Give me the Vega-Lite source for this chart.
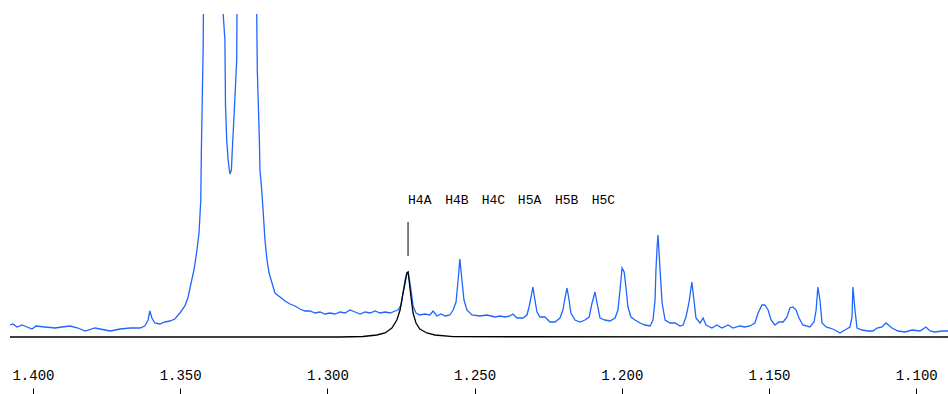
{
  "$schema": "https://vega.github.io/schema/vega-lite/v6.json",
  "width": 938,
  "height": 374,
  "autosize": {"type": "none"},
  "padding": {"left": 10, "top": 14, "right": 0, "bottom": 6},
  "background": "white",
  "config": {"view": {"stroke": null}},
  "datasets": {
    "spectrum": [
      {"ppm": 1.4078, "i": 12}, {"ppm": 1.4068, "i": 13}, {"ppm": 1.4054, "i": 10}, {"ppm": 1.4037, "i": 12},
      {"ppm": 1.4020, "i": 10}, {"ppm": 1.4003, "i": 8}, {"ppm": 1.3990, "i": 11}, {"ppm": 1.3959, "i": 10},
      {"ppm": 1.3925, "i": 9}, {"ppm": 1.3902, "i": 10}, {"ppm": 1.3874, "i": 11}, {"ppm": 1.3847, "i": 9},
      {"ppm": 1.3823, "i": 6}, {"ppm": 1.3789, "i": 9}, {"ppm": 1.3755, "i": 7}, {"ppm": 1.3738, "i": 6},
      {"ppm": 1.3704, "i": 8}, {"ppm": 1.3670, "i": 9}, {"ppm": 1.3637, "i": 9}, {"ppm": 1.3620, "i": 11},
      {"ppm": 1.3609, "i": 17}, {"ppm": 1.3603, "i": 26}, {"ppm": 1.3596, "i": 19}, {"ppm": 1.3586, "i": 14},
      {"ppm": 1.3569, "i": 13}, {"ppm": 1.3552, "i": 15}, {"ppm": 1.3535, "i": 16}, {"ppm": 1.3518, "i": 18},
      {"ppm": 1.3501, "i": 24}, {"ppm": 1.3484, "i": 31}, {"ppm": 1.3473, "i": 40}, {"ppm": 1.3463, "i": 54},
      {"ppm": 1.3453, "i": 67}, {"ppm": 1.3443, "i": 87}, {"ppm": 1.3436, "i": 104}, {"ppm": 1.3430, "i": 137},
      {"ppm": 1.3428, "i": 187}, {"ppm": 1.3425, "i": 237}, {"ppm": 1.3422, "i": 287}, {"ppm": 1.3421, "i": 323},
      {"ppm": 1.3389, "i": 700}, {"ppm": 1.3354, "i": 323}, {"ppm": 1.3348, "i": 297}, {"ppm": 1.3346, "i": 232},
      {"ppm": 1.3342, "i": 197}, {"ppm": 1.3337, "i": 177}, {"ppm": 1.3333, "i": 167}, {"ppm": 1.3331, "i": 163},
      {"ppm": 1.3326, "i": 167}, {"ppm": 1.3323, "i": 187}, {"ppm": 1.3316, "i": 227}, {"ppm": 1.3308, "i": 277},
      {"ppm": 1.3307, "i": 323}, {"ppm": 1.3273, "i": 750}, {"ppm": 1.3240, "i": 323}, {"ppm": 1.3238, "i": 267},
      {"ppm": 1.3235, "i": 237}, {"ppm": 1.3231, "i": 197}, {"ppm": 1.3229, "i": 167}, {"ppm": 1.3223, "i": 147},
      {"ppm": 1.3218, "i": 125}, {"ppm": 1.3212, "i": 97}, {"ppm": 1.3205, "i": 77}, {"ppm": 1.3198, "i": 64},
      {"ppm": 1.3188, "i": 54}, {"ppm": 1.3178, "i": 44}, {"ppm": 1.3161, "i": 40}, {"ppm": 1.3144, "i": 36},
      {"ppm": 1.3127, "i": 33}, {"ppm": 1.3110, "i": 31}, {"ppm": 1.3093, "i": 28}, {"ppm": 1.3076, "i": 26},
      {"ppm": 1.3059, "i": 26}, {"ppm": 1.3042, "i": 24}, {"ppm": 1.3025, "i": 25}, {"ppm": 1.3008, "i": 23},
      {"ppm": 1.2991, "i": 24}, {"ppm": 1.2974, "i": 23}, {"ppm": 1.2957, "i": 25}, {"ppm": 1.2940, "i": 24},
      {"ppm": 1.2923, "i": 27}, {"ppm": 1.2906, "i": 25}, {"ppm": 1.2889, "i": 23}, {"ppm": 1.2872, "i": 25},
      {"ppm": 1.2855, "i": 24}, {"ppm": 1.2838, "i": 26}, {"ppm": 1.2821, "i": 24}, {"ppm": 1.2804, "i": 25},
      {"ppm": 1.2787, "i": 24}, {"ppm": 1.2770, "i": 26}, {"ppm": 1.2760, "i": 27}, {"ppm": 1.2750, "i": 32},
      {"ppm": 1.2743, "i": 44}, {"ppm": 1.2736, "i": 57}, {"ppm": 1.2730, "i": 64}, {"ppm": 1.2726, "i": 65},
      {"ppm": 1.2723, "i": 61}, {"ppm": 1.2716, "i": 47}, {"ppm": 1.2709, "i": 31}, {"ppm": 1.2699, "i": 24},
      {"ppm": 1.2686, "i": 22}, {"ppm": 1.2669, "i": 23}, {"ppm": 1.2652, "i": 22}, {"ppm": 1.2641, "i": 26},
      {"ppm": 1.2628, "i": 21}, {"ppm": 1.2614, "i": 23}, {"ppm": 1.2600, "i": 21}, {"ppm": 1.2584, "i": 22},
      {"ppm": 1.2573, "i": 27}, {"ppm": 1.2563, "i": 35}, {"ppm": 1.2556, "i": 57}, {"ppm": 1.2550, "i": 78},
      {"ppm": 1.2543, "i": 57}, {"ppm": 1.2536, "i": 37}, {"ppm": 1.2526, "i": 27}, {"ppm": 1.2509, "i": 22},
      {"ppm": 1.2482, "i": 21}, {"ppm": 1.2458, "i": 22}, {"ppm": 1.2431, "i": 20}, {"ppm": 1.2414, "i": 21},
      {"ppm": 1.2397, "i": 20}, {"ppm": 1.2380, "i": 21}, {"ppm": 1.2370, "i": 23}, {"ppm": 1.2356, "i": 19},
      {"ppm": 1.2336, "i": 19}, {"ppm": 1.2322, "i": 22}, {"ppm": 1.2315, "i": 30}, {"ppm": 1.2308, "i": 40},
      {"ppm": 1.2302, "i": 50}, {"ppm": 1.2295, "i": 37}, {"ppm": 1.2288, "i": 25}, {"ppm": 1.2278, "i": 20},
      {"ppm": 1.2261, "i": 20}, {"ppm": 1.2244, "i": 15}, {"ppm": 1.2227, "i": 15}, {"ppm": 1.2210, "i": 19},
      {"ppm": 1.2200, "i": 27}, {"ppm": 1.2193, "i": 39}, {"ppm": 1.2186, "i": 49}, {"ppm": 1.2179, "i": 37},
      {"ppm": 1.2173, "i": 24}, {"ppm": 1.2159, "i": 17}, {"ppm": 1.2142, "i": 15}, {"ppm": 1.2125, "i": 17},
      {"ppm": 1.2111, "i": 20}, {"ppm": 1.2101, "i": 34}, {"ppm": 1.2091, "i": 45}, {"ppm": 1.2084, "i": 34},
      {"ppm": 1.2074, "i": 19}, {"ppm": 1.2057, "i": 17}, {"ppm": 1.2040, "i": 16}, {"ppm": 1.2023, "i": 19},
      {"ppm": 1.2013, "i": 27}, {"ppm": 1.2006, "i": 47}, {"ppm": 1.1999, "i": 69}, {"ppm": 1.1992, "i": 65},
      {"ppm": 1.1986, "i": 50}, {"ppm": 1.1979, "i": 30}, {"ppm": 1.1969, "i": 20}, {"ppm": 1.1955, "i": 17},
      {"ppm": 1.1938, "i": 14}, {"ppm": 1.1921, "i": 12}, {"ppm": 1.1904, "i": 11}, {"ppm": 1.1894, "i": 17},
      {"ppm": 1.1887, "i": 37}, {"ppm": 1.1884, "i": 67}, {"ppm": 1.1880, "i": 90}, {"ppm": 1.1877, "i": 102},
      {"ppm": 1.1874, "i": 87}, {"ppm": 1.1870, "i": 67}, {"ppm": 1.1863, "i": 34}, {"ppm": 1.1853, "i": 17},
      {"ppm": 1.1836, "i": 14}, {"ppm": 1.1819, "i": 14}, {"ppm": 1.1802, "i": 11}, {"ppm": 1.1792, "i": 12},
      {"ppm": 1.1782, "i": 20}, {"ppm": 1.1772, "i": 34}, {"ppm": 1.1762, "i": 55}, {"ppm": 1.1755, "i": 37},
      {"ppm": 1.1748, "i": 19}, {"ppm": 1.1734, "i": 14}, {"ppm": 1.1724, "i": 19}, {"ppm": 1.1714, "i": 12},
      {"ppm": 1.1694, "i": 9}, {"ppm": 1.1677, "i": 12}, {"ppm": 1.1660, "i": 9}, {"ppm": 1.1639, "i": 12},
      {"ppm": 1.1622, "i": 9}, {"ppm": 1.1599, "i": 11}, {"ppm": 1.1582, "i": 10}, {"ppm": 1.1565, "i": 11},
      {"ppm": 1.1548, "i": 14}, {"ppm": 1.1537, "i": 24}, {"ppm": 1.1524, "i": 32}, {"ppm": 1.1514, "i": 32},
      {"ppm": 1.1503, "i": 27}, {"ppm": 1.1493, "i": 17}, {"ppm": 1.1480, "i": 12}, {"ppm": 1.1466, "i": 15},
      {"ppm": 1.1452, "i": 15}, {"ppm": 1.1439, "i": 20}, {"ppm": 1.1429, "i": 29}, {"ppm": 1.1419, "i": 30},
      {"ppm": 1.1408, "i": 27}, {"ppm": 1.1398, "i": 19}, {"ppm": 1.1385, "i": 12}, {"ppm": 1.1361, "i": 10},
      {"ppm": 1.1347, "i": 15}, {"ppm": 1.1340, "i": 27}, {"ppm": 1.1334, "i": 50}, {"ppm": 1.1327, "i": 37},
      {"ppm": 1.1320, "i": 14}, {"ppm": 1.1306, "i": 10}, {"ppm": 1.1293, "i": 9}, {"ppm": 1.1276, "i": 7},
      {"ppm": 1.1259, "i": 4}, {"ppm": 1.1242, "i": 7}, {"ppm": 1.1225, "i": 10}, {"ppm": 1.1218, "i": 20},
      {"ppm": 1.1215, "i": 50}, {"ppm": 1.1208, "i": 27}, {"ppm": 1.1201, "i": 9}, {"ppm": 1.1184, "i": 7},
      {"ppm": 1.1164, "i": 6}, {"ppm": 1.1147, "i": 6}, {"ppm": 1.1133, "i": 9}, {"ppm": 1.1116, "i": 10},
      {"ppm": 1.1103, "i": 14}, {"ppm": 1.1082, "i": 9}, {"ppm": 1.1062, "i": 6}, {"ppm": 1.1038, "i": 5},
      {"ppm": 1.1014, "i": 7}, {"ppm": 1.0987, "i": 6}, {"ppm": 1.0967, "i": 10}, {"ppm": 1.0953, "i": 6},
      {"ppm": 1.0936, "i": 5}, {"ppm": 1.0912, "i": 6}, {"ppm": 1.0892, "i": 6}
    ],
    "fit": [
      {"ppm": 1.4078, "i": 0}, {"ppm": 1.2957, "i": 0}, {"ppm": 1.2879, "i": 0.5}, {"ppm": 1.2832, "i": 2},
      {"ppm": 1.2804, "i": 4}, {"ppm": 1.2781, "i": 9}, {"ppm": 1.2764, "i": 17}, {"ppm": 1.2753, "i": 27},
      {"ppm": 1.2743, "i": 44}, {"ppm": 1.2736, "i": 54}, {"ppm": 1.2730, "i": 64}, {"ppm": 1.2726, "i": 65},
      {"ppm": 1.2723, "i": 58}, {"ppm": 1.2716, "i": 40}, {"ppm": 1.2709, "i": 24}, {"ppm": 1.2699, "i": 14},
      {"ppm": 1.2686, "i": 8}, {"ppm": 1.2662, "i": 4}, {"ppm": 1.2635, "i": 2}, {"ppm": 1.2573, "i": 0.3},
      {"ppm": 1.0892, "i": 0}
    ],
    "marker": [{"ppm": 1.2726, "y1": 81, "y2": 115}],
    "labels": [
      {"ppm": 1.2726, "i": 137, "label": "H4A"},
      {"ppm": 1.2600, "i": 137, "label": "H4B"},
      {"ppm": 1.2476, "i": 137, "label": "H4C"},
      {"ppm": 1.2353, "i": 137, "label": "H5A"},
      {"ppm": 1.2227, "i": 137, "label": "H5B"},
      {"ppm": 1.2102, "i": 137, "label": "H5C"}
    ]
  },
  "layer": [
    {
      "data": {"name": "spectrum"},
      "mark": {"type": "line", "color": "#1f66ff", "strokeWidth": 1.3, "clip": true, "interpolate": "linear"},
      "encoding": {
        "x": {
          "field": "ppm", "type": "quantitative",
          "scale": {"domain": [1.4078, 1.0892], "nice": false, "zero": false},
          "axis": {
            "orient": "bottom", "values": [1.4, 1.35, 1.3, 1.25, 1.2, 1.15, 1.1], "format": ".3f",
            "title": null, "grid": false, "domain": false, "tickSize": 6, "tickColor": "#000", "tickWidth": 1,
            "labelFont": "Liberation Mono", "labelFontSize": 14, "labelColor": "#000", "labelPadding": -26,
            "labelFlush": false, "labelOverlap": false
          }
        },
        "y": {
          "field": "i", "type": "quantitative",
          "scale": {"domain": [-51, 323], "nice": false, "zero": false},
          "axis": null
        }
      }
    },
    {
      "data": {"name": "fit"},
      "mark": {"type": "line", "color": "#000000", "strokeWidth": 1.3, "clip": true},
      "encoding": {
        "x": {"field": "ppm", "type": "quantitative"},
        "y": {"field": "i", "type": "quantitative"}
      }
    },
    {
      "data": {"name": "marker"},
      "mark": {"type": "rule", "color": "#000000", "strokeWidth": 1},
      "encoding": {
        "x": {"field": "ppm", "type": "quantitative"},
        "y": {"field": "y1", "type": "quantitative"},
        "y2": {"field": "y2"}
      }
    },
    {
      "data": {"name": "labels"},
      "mark": {"type": "text", "font": "Liberation Mono", "fontSize": 13, "align": "left", "baseline": "middle", "color": "#000"},
      "encoding": {
        "x": {"field": "ppm", "type": "quantitative"},
        "y": {"field": "i", "type": "quantitative"},
        "text": {"field": "label"}
      }
    }
  ]
}
